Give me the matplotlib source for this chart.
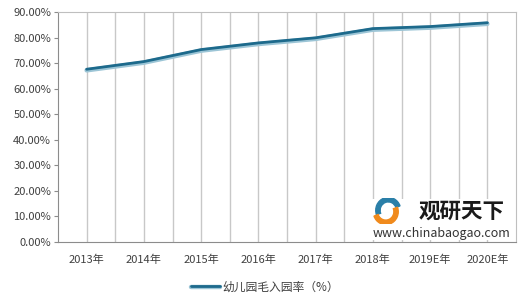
import matplotlib
matplotlib.use("Agg")
import matplotlib.pyplot as plt
import matplotlib.patheffects as pe
from matplotlib.patches import Wedge

plt.rcParams['font.family'] = ['Noto Sans CJK SC', 'DejaVu Sans']

years = ["2013年", "2014年", "2015年", "2016年", "2017年", "2018年", "2019E年", "2020E年"]
rates = [67.6, 70.6, 75.3, 77.9, 79.9, 83.5, 84.3, 85.8]
y_ticks = [0, 10, 20, 30, 40, 50, 60, 70, 80, 90]
series_name = "幼儿园毛入园率（%）"

fig = plt.figure(figsize=(5.2, 3.01), dpi=100)
ax = fig.add_axes([58 / 520, 1 - 242 / 301, 458 / 520, 230 / 301])

x = list(range(len(years)))
line, = ax.plot(x, rates, color="#1d6a8c", lw=2.0, solid_capstyle="round", zorder=3,
                label=series_name,
                path_effects=[pe.Stroke(linewidth=3.2, foreground="#9cc5d6", offset=(0, -0.8)),
                              pe.Normal()])

ax.set_xlim(-0.5, len(years) - 0.5)
ax.set_ylim(0, 90)
ax.set_yticks(y_ticks)
ax.set_yticklabels(["%.2f%%" % v for v in y_ticks])
ax.set_xticks(x)
ax.set_xticklabels(years)

# vertical grid at category centres and boundaries
for i in range(len(years)):
    ax.axvline(i, color="#c8c8c8", lw=1, zorder=1)
    if i > 0:
        ax.axvline(i - 0.5, color="#c8c8c8", lw=1, zorder=1)

for s in ax.spines.values():
    s.set_color("#bfbfbf")
ax.spines["left"].set_color("#8c8c8c")
ax.spines["bottom"].set_color("#8c8c8c")
ax.tick_params(axis="y", length=3, color="#8c8c8c", labelsize=8, labelcolor="#404040", pad=2)
ax.tick_params(axis="x", length=0, labelsize=8, labelcolor="#404040", pad=9)

leg = fig.legend(handles=[line], loc="center", bbox_to_anchor=(265 / 520, 1 - 287 / 301),
                 frameon=False, fontsize=8.5, handlelength=2.4, handletextpad=0.2,
                 labelcolor="#404040")

# watermark on a white box that hides the grid behind it
wm = fig.add_axes([372 / 520, 1 - 240 / 301, 140 / 520, 41 / 301], zorder=5)
wm.set_facecolor("white")
wm.set_xticks([])
wm.set_yticks([])
for s in wm.spines.values():
    s.set_visible(False)
wm.set_xlim(0, 140)
wm.set_ylim(41, 0)
wm.text(90, 12, "观研天下", fontsize=15.5, fontweight="bold",
        color="#1a1a1a", ha="center", va="center")
wm.text(70, 34, "www.chinabaogao.com", fontsize=9,
        color="#333333", ha="center", va="center")

logo = fig.add_axes([372 / 520, 1 - 224 / 301, 30 / 520, 26 / 301], zorder=7)
logo.set_xlim(-1.2, 1.2)
logo.set_ylim(-1.0, 1.0)
logo.axis("off")
logo.add_patch(Wedge((0.1, 0.05), 1.0, 20, 200, width=0.35, color="#2a7fa8"))
logo.add_patch(Wedge((-0.1, -0.05), 1.0, 200, 380, width=0.35, color="#f08a1c"))

fig.savefig("out.png", dpi=100)
